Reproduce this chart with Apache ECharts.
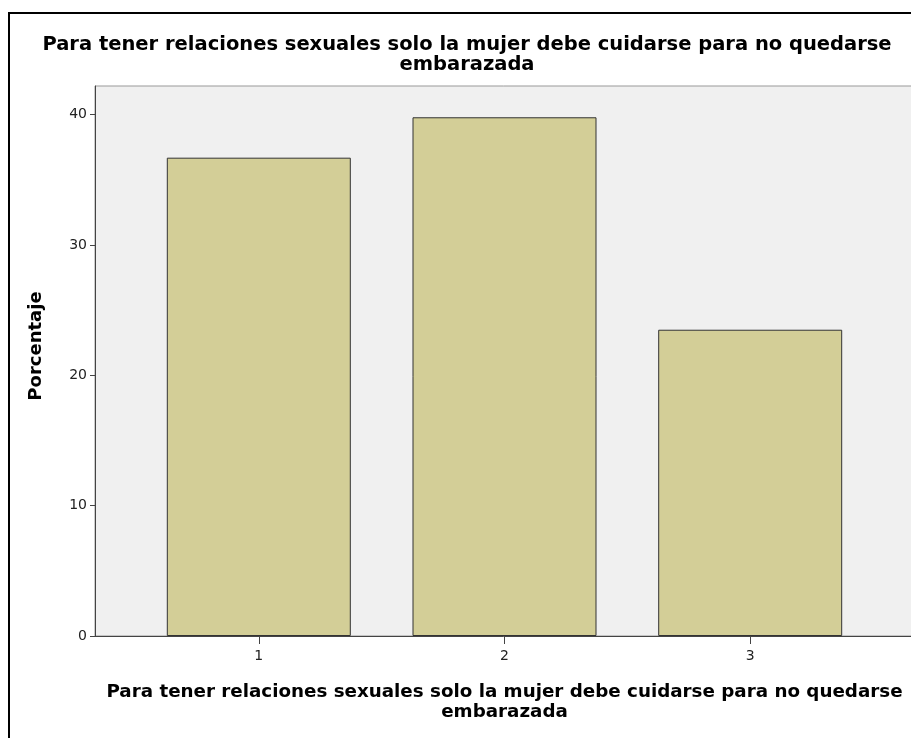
<!DOCTYPE html>
<html>
<head>
<meta charset="utf-8">
<script src="https://cdn.jsdelivr.net/npm/echarts@6/dist/echarts.min.js"></script>
<style>
  html, body { margin: 0; padding: 0; background: #fff; }
  #chart { width: 911px; height: 738px; }
</style>
</head>
<body>
<div id="chart"></div>
<script>
// datos
var categorias = [1, 2, 3];
var porcentajes = [36.7, 39.8, 23.5];
var yTicks = [0, 10, 20, 30, 40];
var titulo = 'Para tener relaciones sexuales solo la mujer debe cuidarse para no quedarse\nembarazada';

var chart = echarts.init(document.getElementById('chart'));

var puntos = [];
categorias.forEach(function (c, i) {
  puntos.push([c, porcentajes[i]]);
});

var option = {
  backgroundColor: '#fff',
  animation: false,
  title: {
    text: titulo,
    left: 462,
    top: 30,
    textAlign: 'center',
    textStyle: {
      fontFamily: 'DejaVu Sans',
      fontWeight: 'bold',
      fontSize: 19.5,
      lineHeight: 20,
      color: '#000'
    }
  },
  graphic: [{
    type: 'rect',
    shape: { x: 9, y: 13, width: 1000, height: 1000 },
    style: { fill: 'none', stroke: '#000', lineWidth: 2 },
    silent: true
  }],
  grid: {
    left: 95,
    top: 86,
    right: -3,
    bottom: 102,
    outerBoundsMode: 'none',
    show: true,
    backgroundColor: '#f0f0f0',
    borderColor: '#999',
    borderWidth: 1
  },
  xAxis: {
    type: 'value',
    min: 1 / 3,
    max: 11 / 3,
    name: titulo,
    nameLocation: 'middle',
    nameGap: 46,
    nameTextStyle: {
      fontFamily: 'DejaVu Sans',
      fontWeight: 'bold',
      fontSize: 18.3,
      lineHeight: 20,
      color: '#000'
    },
    splitLine: { show: false },
    axisLine: { show: true, onZero: false, lineStyle: { color: '#444', width: 1 } },
    axisTick: {
      show: true,
      length: 8,
      customValues: categorias,
      lineStyle: { color: '#444' }
    },
    axisLabel: {
      customValues: categorias,
      margin: 13,
      fontFamily: 'DejaVu Sans',
      fontSize: 14,
      color: '#222'
    }
  },
  yAxis: {
    type: 'value',
    min: 0,
    max: 42.2,
    name: 'Porcentaje',
    nameLocation: 'middle',
    nameGap: 50,
    nameTextStyle: {
      fontFamily: 'DejaVu Sans',
      fontWeight: 'bold',
      fontSize: 18,
      color: '#000',
      padding: [0, 0, 0, 30]
    },
    splitLine: { show: false },
    axisLine: { show: true, lineStyle: { color: '#444', width: 1 } },
    axisTick: {
      show: true,
      length: 5,
      customValues: yTicks,
      lineStyle: { color: '#444' }
    },
    axisLabel: {
      customValues: yTicks,
      margin: 8,
      fontFamily: 'DejaVu Sans',
      fontSize: 14,
      color: '#222'
    }
  },
  series: [{
    type: 'bar',
    data: puntos,
    barWidth: 184,
    itemStyle: {
      color: '#d3ce97',
      borderColor: '#333',
      borderWidth: 1
    }
  }]
};

chart.setOption(option);
</script>
</body>
</html>
